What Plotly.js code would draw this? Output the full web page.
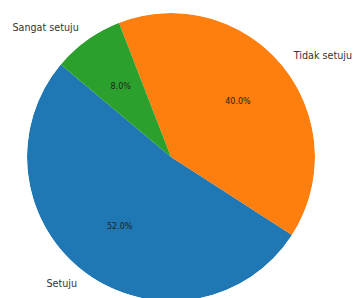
<!DOCTYPE html>
<html>
<head>
<meta charset="utf-8">
<script src="https://cdn.plot.ly/plotly-3.0.1.min.js"></script>
<style>
html,body{margin:0;padding:0;overflow:hidden;background:#fff;width:355px;height:298px;}
#chart{width:355px;height:314px;}
</style>
</head>
<body>
<div id="chart"></div>
<script>
var labels = ["Setuju", "Tidak setuju", "Sangat setuju"];
var values = [52, 40, 8];
var colors = ["#1f77b4", "#ff7f0e", "#2ca02c"];
var startAngle = 140;      // matplotlib-style start angle, counterclockwise
var labelDistance = 1.1;
var pctDistance = 0.6;

var total = values.reduce(function (a, b) { return a + b; }, 0);
var widths = [], mids = [], pcts = [];
var cur = startAngle;
values.forEach(function (v) {
  var w = v / total * 360;
  widths.push(w);
  mids.push(cur + w / 2);
  pcts.push((v / total * 100).toFixed(1) + "%");
  cur += w;
});
var rad = function (d) { return d * Math.PI / 180; };
var labelX = mids.map(function (m) { return labelDistance * Math.cos(rad(m)); });
var labelY = mids.map(function (m) { return labelDistance * Math.sin(rad(m)); });
var labelPos = labelX.map(function (x) { return x >= 0 ? "middle right" : "middle left"; });

var slices = {
  type: "barpolar",
  r: values.map(function () { return 1; }),
  theta: mids,
  width: widths,
  marker: {color: colors, line: {width: 0}},
  hoverinfo: "none",
  showlegend: false
};

var pctText = {
  type: "scatterpolar",
  mode: "text",
  r: values.map(function () { return pctDistance; }),
  theta: mids,
  text: pcts,
  textposition: "middle center",
  textfont: {family: "DejaVu Sans", size: 8, color: "#222222"},
  cliponaxis: false,
  hoverinfo: "none",
  showlegend: false
};

var labelText = {
  type: "scatter",
  mode: "text",
  x: labelX,
  y: labelY,
  text: labels,
  textposition: labelPos,
  textfont: {family: "DejaVu Sans", size: 9.6, color: "#333333"},
  cliponaxis: false,
  hoverinfo: "none",
  showlegend: false
};

var hiddenAxis = {range: [-1, 1], visible: false, showgrid: false, zeroline: false, showline: false, showticklabels: false, fixedrange: true};

var layout = {
  width: 355,
  height: 314,
  margin: {l: 27, r: 40, t: 13, b: 13},
  paper_bgcolor: "#ffffff",
  plot_bgcolor: "rgba(0,0,0,0)",
  xaxis: Object.assign({domain: [0, 1]}, hiddenAxis),
  yaxis: Object.assign({domain: [0, 1]}, hiddenAxis),
  polar: {
    bgcolor: "rgba(0,0,0,0)",
    bargap: 0,
    domain: {x: [0, 1], y: [0, 1]},
    radialaxis: {range: [0, 1], visible: false, showgrid: false, showline: false, showticklabels: false, ticks: ""},
    angularaxis: {rotation: 0, direction: "counterclockwise", visible: false, showgrid: false, showline: false, showticklabels: false, ticks: ""}
  }
};

Plotly.newPlot("chart", [slices, pctText, labelText], layout, {displayModeBar: false, staticPlot: true});
</script>
</body>
</html>
